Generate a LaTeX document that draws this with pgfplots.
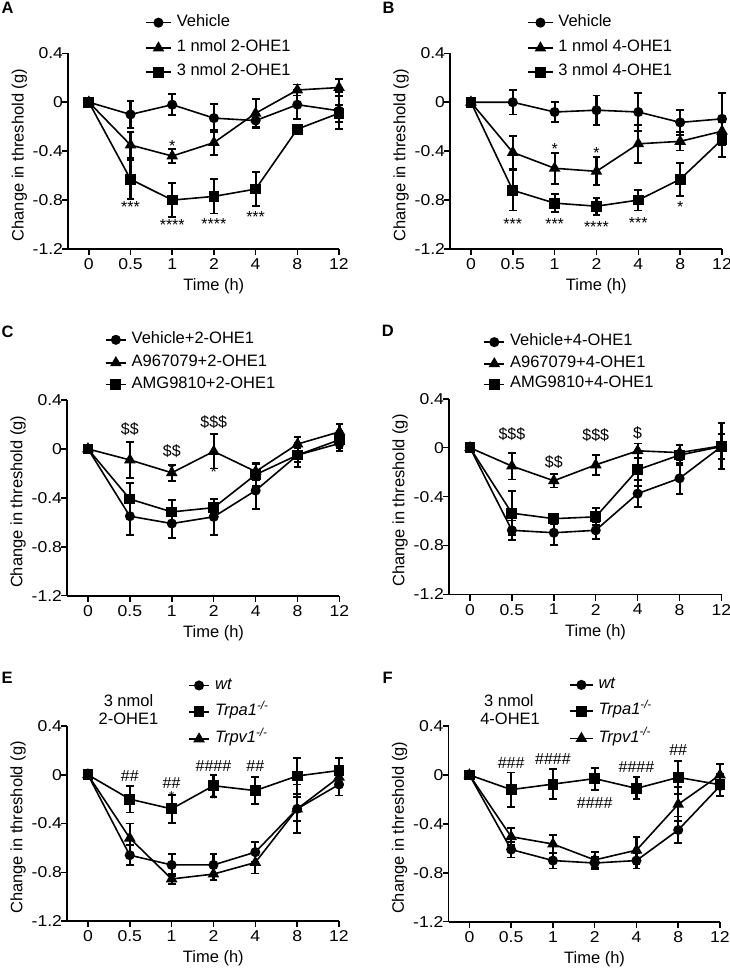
\documentclass[border=0pt]{standalone}
\usepackage{fontspec}
\setmainfont{Liberation Sans}
\newfontfamily\tickfont{Liberation Sans}[FakeStretch=1.12]
\usepackage{pgfplots}
\pgfplotsset{compat=1.18}
\newcommand{\fs}[1]{\fontsize{#1}{#1}\selectfont}
\pgfplotsset{
 panel/.style={
  scale only axis, height=195.7pt,
  axis x line*=bottom, axis y line*=left,
  xmin=-0.5, xmax=6, ymin=-1.2, ymax=0.4,
  xtick={0,1,2,3,4,5,6}, xticklabels={0,0.5,1,2,4,8,12},
  ytick={-1.2,-0.8,-0.4,0,0.4}, yticklabels={-1.2,-0.8,-0.4,0,0.4},
  tick align=outside, major tick length=6pt,
  axis line style={line width=1.7pt},
  every tick/.style={black, line width=1.5pt},
  clip=false,
  ticklabel style={font=\tickfont\fs{15.7}},
  yticklabel style={xshift=4.5pt},
  xlabel={Time (h)}, ylabel={Change in threshold (g)},
  label style={font=\fs{16.5}},
  xlabel style={at={(axis description cs:0.538,-0.2136)}, anchor=base},
  ylabel style={at={(axis description cs:-0.164,0.48)}, anchor=base},
  legend cell align=left,
  legend style={draw=none, fill=none, anchor=north west, inner sep=0pt,
    font=\fs{16.5}, nodes={inner sep=0pt, text height=0.72em, text depth=0pt},
    column sep=5pt},
  every axis plot/.append style={black, line width=1.6pt},
  error bars/y dir=both, error bars/y explicit,
  error bars/error bar style={line width=2.1pt, black},
  error bars/error mark options={rotate=90, mark size=3.9pt, line width=1.9pt, black},
 },
 vc/.style={black, mark=*, mark size=4.2pt, mark options={fill=black}},
 tr/.style={black, mark=triangle*, mark size=5.2pt, mark options={fill=black}},
 sq/.style={black, mark=square*, mark size=4.6pt, mark options={fill=black}},
 leg/.style={legend image code/.code={\draw[mark repeat=2,mark phase=2,##1] plot coordinates {(0pt,0pt)(#1/2,0pt)(#1,0pt)};}},
}
\tikzset{
 st/.style={font=\fs{16}, anchor=base, yshift=-9.2pt, inner sep=0pt},
 ds/.style={font=\fs{16}, anchor=base, yshift=-5.7pt, inner sep=0pt},
}
\begin{document}
\begin{tikzpicture}
\path[use as bounding box] (0pt,0pt) rectangle (730pt,-969pt);

% ---------------- A
\begin{axis}[panel, width=271pt, at={(68pt,-249pt)}, anchor=south west, leg=25pt,
  legend style={at={(axis description cs:0.284,1.179)}, row sep=16pt}]
\addplot[vc] table[x index=0,y index=1,y error index=2] {
0 0 0
1 -0.10 0.11
2 -0.02 0.085
3 -0.13 0.115
4 -0.15 0.05
5 -0.02 0.12
6 -0.07 0.15
};
\addplot[tr] table[x index=0,y index=1,y error index=2] {
0 0 0
1 -0.35 0.105
2 -0.44 0.06
3 -0.33 0.10
4 -0.09 0.12
5 0.10 0.045
6 0.12 0.068
};
\addplot[sq] table[x index=0,y index=1,y error index=2] {
0 0 0
1 -0.63 0.16
2 -0.80 0.14
3 -0.77 0.14
4 -0.71 0.14
5 -0.22 0.02
6 -0.09 0.07
};
\legend{Vehicle,1 nmol 2-OHE1,3 nmol 2-OHE1}
\node[st] at (axis cs:1,-0.829) {***};
\node[st] at (axis cs:2,-0.327) {*};
\node[st] at (axis cs:2,-0.973) {****};
\node[st] at (axis cs:3,-0.968) {****};
\node[st] at (axis cs:4,-0.905) {***};
\end{axis}

% ---------------- B
\begin{axis}[panel, width=272pt, at={(450pt,-249pt)}, anchor=south west, leg=24.4pt,
  legend style={at={(axis description cs:0.284,1.179)}, row sep=16pt}]
\addplot[vc] table[x index=0,y index=1,y error index=2] {
0 0 0
1 0.0 0.1
2 -0.08 0.085
3 -0.065 0.12
4 -0.08 0.155
5 -0.165 0.105
6 -0.136 0.213
};
\addplot[tr] table[x index=0,y index=1,y error index=2] {
0 0 0
1 -0.41 0.135
2 -0.54 0.125
3 -0.565 0.115
4 -0.34 0.155
5 -0.32 0.075
6 -0.237 0.1
};
\addplot[sq] table[x index=0,y index=1,y error index=2] {
0 0 0
1 -0.72 0.165
2 -0.825 0.075
3 -0.85 0.07
4 -0.80 0.085
5 -0.63 0.135
6 -0.305 0.14
};
\legend{Vehicle,1 nmol 4-OHE1,3 nmol 4-OHE1}
\node[st] at (axis cs:1,-0.965) {***};
\node[st] at (axis cs:2,-0.352) {*};
\node[st] at (axis cs:2,-0.965) {***};
\node[st] at (axis cs:3,-0.387) {*};
\node[st] at (axis cs:3,-0.987) {****};
\node[st] at (axis cs:4,-0.959) {***};
\node[st] at (axis cs:5,-0.829) {*};
\end{axis}

% ---------------- C
\begin{axis}[panel, width=272.5pt, at={(67pt,-595.7pt)}, anchor=south west, leg=20pt,
  legend style={at={(axis description cs:0.139,1.33)}, row sep=13.6pt}]
\addplot[vc] table[x index=0,y index=1,y error index=2] {
0 0 0
1 -0.55 0.15
2 -0.61 0.12
3 -0.555 0.15
4 -0.34 0.15
5 -0.05 0.1
6 0.045 0.06
};
\addplot[tr] table[x index=0,y index=1,y error index=2] {
0 0 0
1 -0.09 0.145
2 -0.195 0.065
3 -0.02 0.14
4 -0.185 0.07
5 0.04 0.06
6 0.14 0.065
};
\addplot[sq] table[x index=0,y index=1,y error index=2] {
0 0 0
1 -0.41 0.135
2 -0.515 0.1
3 -0.48 0.07
4 -0.21 0.09
5 -0.05 0.06
6 0.075 0.07
};
\legend{Vehicle+2-OHE1,A967079+2-OHE1,AMG9810+2-OHE1}
\node[ds] at (axis cs:1,0.166) {\$\$};
\node[ds] at (axis cs:2,-0.014) {\$\$};
\node[ds] at (axis cs:3,0.218) {\$\$\$};
\node[st] at (axis cs:2,-0.139) {*};
\node[st] at (axis cs:3,-0.16) {*};
\end{axis}

% ---------------- D
\begin{axis}[panel, width=272.5pt, at={(449pt,-594.5pt)}, anchor=south west, leg=20pt,
  legend style={at={(axis description cs:0.126,1.312)}, row sep=12.3pt}]
\addplot[vc] table[x index=0,y index=1,y error index=2] {
0 0 0
1 -0.675 0.08
2 -0.695 0.1
3 -0.675 0.07
4 -0.375 0.11
5 -0.25 0.125
6 0.01 0.1
};
\addplot[tr] table[x index=0,y index=1,y error index=2] {
0 0 0
1 -0.15 0.11
2 -0.27 0.055
3 -0.14 0.08
4 -0.025 0.06
5 -0.04 0.06
6 0.015 0.19
};
\addplot[sq] table[x index=0,y index=1,y error index=2] {
0 0 0
1 -0.535 0.18
2 -0.58 0.04
3 -0.565 0.07
4 -0.18 0.135
5 -0.06 0.08
6 0.01 0.1
};
\legend{Vehicle+4-OHE1,A967079+4-OHE1,AMG9810+4-OHE1}
\node[ds] at (axis cs:1,0.116) {\$\$\$};
\node[ds] at (axis cs:2,-0.119) {\$\$};
\node[ds] at (axis cs:3,0.108) {\$\$\$};
\node[ds] at (axis cs:4,0.119) {\$};
\end{axis}

% ---------------- E
\begin{axis}[panel, width=272pt, height=195pt, at={(67pt,-921pt)}, anchor=south west, leg=20.6pt,
  legend style={at={(axis description cs:0.444,1.2305)}, row sep=17.5pt}]
\addplot[vc] table[x index=0,y index=1,y error index=2] {
0 0 0
1 -0.66 0.08
2 -0.74 0.09
3 -0.74 0.09
4 -0.635 0.08
5 -0.28 0.2
6 -0.08 0.09
};
\addplot[sq] table[x index=0,y index=1,y error index=2] {
0 0 0
1 -0.2 0.11
2 -0.28 0.115
3 -0.09 0.09
4 -0.13 0.11
5 -0.01 0.15
6 0.035 0.1
};
\addplot[tr] table[x index=0,y index=1,y error index=2] {
0 0 0
1 -0.52 0.12
2 -0.855 0.04
3 -0.815 0.05
4 -0.72 0.09
5 -0.28 0.1
6 -0.02 0.08
};
\legend{{\itshape wt},{\itshape Trpa1\textsuperscript{-/-}},{\itshape Trpv1\textsuperscript{-/-}}}
\node[ds] at (axis cs:1,-0.007) {\#\#};
\node[ds] at (axis cs:2,-0.062) {\#\#};
\node[ds] at (axis cs:3,0.07) {\#\#\#\#};
\node[ds] at (axis cs:4,0.07) {\#\#};
\node[st, font=\fs{13}, yshift=0.8pt] at (axis cs:2,-0.14) {*};
\node[st, font=\fs{13}, yshift=0.8pt] at (axis cs:3,-0.17) {*};
\node[font=\fs{16.5}, anchor=base, inner sep=0pt] at (axis cs:0.97,0.558) {3 nmol};
\node[font=\fs{16.5}, anchor=base, inner sep=0pt] at (axis cs:0.97,0.414) {2-OHE1};
\end{axis}

% ---------------- F
\begin{axis}[panel, width=271.5pt, at={(448.5pt,-921.7pt)}, anchor=south west, leg=22.7pt,
  legend style={at={(axis description cs:0.444,1.2325)}, row sep=17.5pt}]
\addplot[vc] table[x index=0,y index=1,y error index=2] {
0 0 0
1 -0.61 0.065
2 -0.70 0.065
3 -0.72 0.05
4 -0.70 0.065
5 -0.45 0.11
6 -0.09 0.08
};
\addplot[sq] table[x index=0,y index=1,y error index=2] {
0 0 0
1 -0.12 0.14
2 -0.075 0.125
3 -0.03 0.09
4 -0.11 0.09
5 -0.02 0.135
6 -0.08 0.09
};
\addplot[tr] table[x index=0,y index=1,y error index=2] {
0 0 0
1 -0.505 0.07
2 -0.565 0.075
3 -0.695 0.065
4 -0.615 0.11
5 -0.24 0.14
6 0.0 0.09
};
\legend{{\itshape wt},{\itshape Trpa1\textsuperscript{-/-}},{\itshape Trpv1\textsuperscript{-/-}}}
\node[ds] at (axis cs:1,0.1) {\#\#\#};
\node[ds] at (axis cs:2,0.133) {\#\#\#\#};
\node[ds] at (axis cs:3,-0.224) {\#\#\#\#};
\node[ds] at (axis cs:4,0.065) {\#\#\#\#};
\node[ds] at (axis cs:5,0.204) {\#\#};
\node[font=\fs{16.5}, anchor=base, inner sep=0pt] at (axis cs:0.945,0.558) {3 nmol};
\node[font=\fs{16.5}, anchor=base, inner sep=0pt] at (axis cs:0.974,0.414) {4-OHE1};
\end{axis}

% panel letters
\node[anchor=base west, inner sep=0pt, font=\bfseries\fs{16.5}] at (1.5pt,-13.3pt) {A};
\node[anchor=base west, inner sep=0pt, font=\bfseries\fs{16.5}] at (382.5pt,-13.3pt) {B};
\node[anchor=base west, inner sep=0pt, font=\bfseries\fs{16.5}] at (1.5pt,-337pt) {C};
\node[anchor=base west, inner sep=0pt, font=\bfseries\fs{16.5}] at (381.7pt,-336pt) {D};
\node[anchor=base west, inner sep=0pt, font=\bfseries\fs{16.5}] at (1.5pt,-683.3pt) {E};
\node[anchor=base west, inner sep=0pt, font=\bfseries\fs{16.5}] at (382.3pt,-683.3pt) {F};
\end{tikzpicture}
\end{document}
